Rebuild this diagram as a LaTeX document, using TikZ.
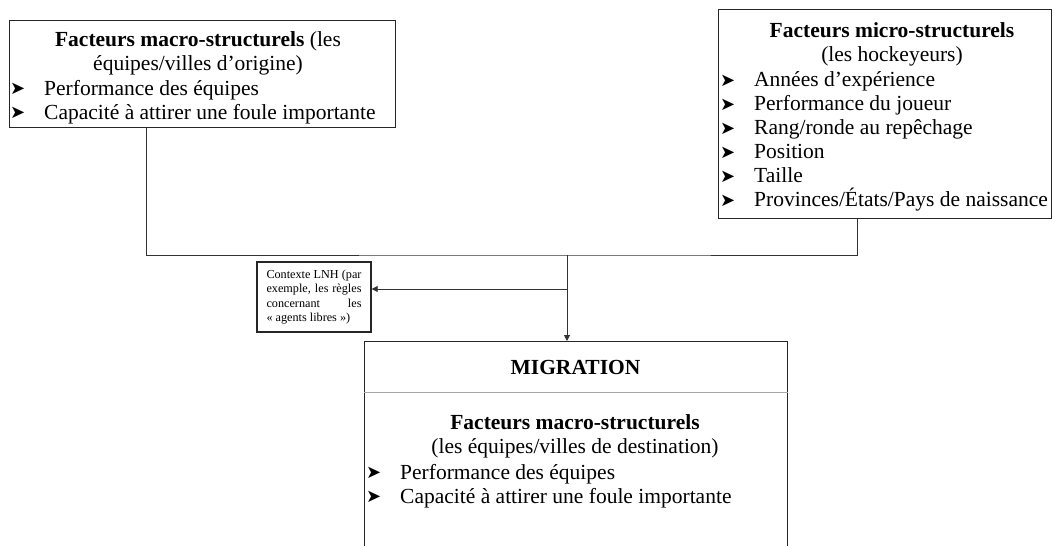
\documentclass[tikz,border=0pt]{standalone}
\usepackage{fontspec}
\setmainfont{Liberation Serif}
\newfontfamily\djv{DejaVu Sans}
\usetikzlibrary{arrows.meta}
\newcommand\bul{\makebox[34pt][l]{\raisebox{0.5pt}{\fontsize{18}{18}\selectfont\djv ➤}}}
\begin{document}
\begin{tikzpicture}[x=1pt,y=-1pt,
 box/.style={draw=black!85,line width=1.4pt,inner sep=0pt,anchor=north west},
 txt/.style={inner sep=0pt,font=\fontsize{21.5}{24}\selectfont},
 conn/.style={line width=0.9pt,draw=black!80},
 tip/.style={-{Triangle[length=6pt,width=6pt]}}]
\useasboundingbox (0,0) rectangle (1053,546);
\clip (0,0) rectangle (1053,546);
\fill[white] (0,0) rectangle (1053,546);

% origin box
\node[box,minimum width=386pt,minimum height=107pt] (macroO) at (9,20) {};
\node[txt,align=center] (macroOt) at (198,53) {\textbf{Facteurs macro-structurels} (les\\équipes/villes d’origine)};
\node[txt,align=left,anchor=west] (macroOl) at (10,102) {\bul Performance des équipes\\\bul Capacité à attirer une foule importante};

% micro box
\node[box,minimum width=333pt,minimum height=209pt] (micro) at (718,9) {};
\node[txt,align=center] (microt) at (892,44) {\textbf{Facteurs micro-structurels}\\(les hockeyeurs)};
\node[txt,align=left,anchor=west] (microl) at (720,141.5) {\bul Années d’expérience\\\bul Performance du joueur\\\bul Rang/ronde au repêchage\\\bul Position\\\bul Taille\\\bul Provinces/États/Pays de naissance};

% context box
\node[draw=black!85,line width=1.4pt,text width=95pt,align=justify,inner xsep=9.5pt,inner ysep=2pt,
  minimum height=70pt,font=\fontsize{12.2}{14.2}\selectfont] (ctx) at (314,297) {Contexte LNH (par\linebreak exemple, les règles\linebreak concernant les\linebreak «~agents libres~»)};

% migration box
\node[box,minimum width=423pt,minimum height=240pt] (mig) at (364,341) {};
\draw[gray!70,line width=0.9pt] ([yshift=-51pt]mig.north west) -- ([yshift=-51pt]mig.north east);
\node[inner sep=0pt,font=\bfseries\fontsize{21.5}{24}\selectfont] (migt) at (575.5,367) {MIGRATION};
\node[txt,align=center] (migf) at (575,436) {\textbf{Facteurs macro-structurels}\\(les équipes/villes de destination)};
\node[txt,align=left,anchor=west] (migl) at (366,486) {\bul Performance des équipes\\\bul Capacité à attirer une foule importante};

% connectors
\coordinate (j) at (567,255);
\coordinate (k) at (567,289);
\draw[conn] ([xshift=137pt]macroO.south west) |- (j) -| ([xshift=139pt]micro.south west);
\draw[conn,tip] (j) -- (j |- mig.north);
\draw[conn,tip] (k) -- (k -| ctx.east);
\end{tikzpicture}
\end{document}
